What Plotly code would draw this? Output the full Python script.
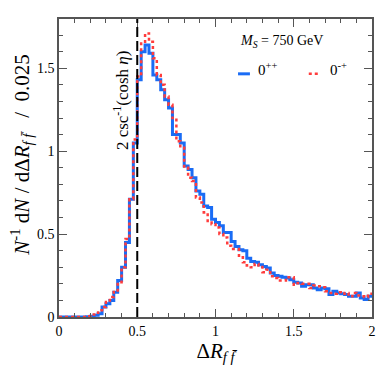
import numpy as np
import plotly.graph_objects as go

bin_width = 0.025
bin_edges = [round(i * bin_width, 4) for i in range(81)]

# 0++ (blue, solid)
y_pp = [0, 0, 0, 0, 0, 0, 0, 0.002,
        0.005, 0.01, 0.02, 0.06, 0.08, 0.10, 0.15, 0.22, 0.30, 0.45, 0.71, 1.05,
        1.43, 1.60, 1.64, 1.59, 1.46, 1.43, 1.37, 1.31, 1.26, 1.10,
        1.10, 1.05, 0.91, 0.89, 0.84, 0.76, 0.74, 0.67, 0.66, 0.59,
        0.57, 0.55, 0.51, 0.51, 0.455, 0.425, 0.405, 0.40, 0.355, 0.335,
        0.33, 0.315, 0.305, 0.295, 0.265, 0.25, 0.245, 0.24, 0.235, 0.225,
        0.21, 0.205, 0.185, 0.195, 0.195, 0.175, 0.165, 0.175, 0.17, 0.135,
        0.155, 0.145, 0.14, 0.135, 0.125, 0.125, 0.145, 0.115, 0.105, 0.125]

# 0-+ (red, dotted)
y_mp = [0, 0, 0, 0, 0, 0, 0, 0.005,
        0.015, 0.025, 0.04, 0.06, 0.09, 0.12, 0.16, 0.21, 0.30, 0.47, 0.71, 1.07,
        1.45, 1.65, 1.71, 1.66, 1.56, 1.46, 1.40, 1.33, 1.28, 1.20,
        1.06, 1.02, 0.90, 0.84, 0.82, 0.72, 0.69, 0.63, 0.57, 0.56,
        0.54, 0.50, 0.48, 0.43, 0.41, 0.41, 0.36, 0.33, 0.31, 0.30,
        0.32, 0.31, 0.27, 0.285, 0.245, 0.235, 0.22, 0.22, 0.24, 0.24,
        0.195, 0.205, 0.20, 0.20, 0.175, 0.19, 0.185, 0.18, 0.155, 0.145,
        0.14, 0.15, 0.14, 0.145, 0.125, 0.145, 0.13, 0.125, 0.12, 0.14]

x_ticks = [0, 0.5, 1, 1.5, 2]
x_ticklabels = ["0", "0.5", "1", "1.5", "2"]
y_ticks = [0, 0.5, 1, 1.5]
y_ticklabels = ["0", "0.5", "1", "1.5"]

BLUE = "#1a6cf5"
RED = "#ff3c3c"
FRAME = "#555555"
FONT = "Liberation Serif"

fig = go.Figure()
fig.add_trace(go.Scatter(x=bin_edges, y=y_pp + [y_pp[-1]], mode="lines",
                         line=dict(color=BLUE, width=3, shape="hv"),
                         showlegend=False, hoverinfo="skip"))
fig.add_trace(go.Scatter(x=bin_edges, y=y_mp + [y_mp[-1]], mode="lines",
                         line=dict(color=RED, width=2.5, shape="hv", dash="dot"),
                         showlegend=False, hoverinfo="skip"))

# vertical dashed line at 2 csc^-1(cosh eta)
fig.add_shape(type="line", x0=0.5, x1=0.5, y0=0, y1=1, xref="x", yref="paper",
              line=dict(color="black", width=2, dash="10px,4px"))

fig.add_annotation(x=0.392, y=1.31, xref="x", yref="y",
                   text="2 csc<sup>-1</sup>(cosh <i>η</i>)", textangle=-90,
                   showarrow=False, font=dict(family=FONT, size=17, color="black"))

fig.add_annotation(x=0.712, y=0.926, xref="paper", yref="paper",
                   xanchor="center", yanchor="middle",
                   text="<i>M</i><sub><i>S</i></sub> = 750 GeV",
                   showarrow=False, font=dict(family=FONT, size=14, color="black"))

# legend samples
fig.add_shape(type="line", x0=0.572, x1=0.610, y0=0.816, y1=0.816,
              xref="paper", yref="paper", line=dict(color=BLUE, width=3))
fig.add_shape(type="line", x0=0.798, x1=0.836, y0=0.816, y1=0.816,
              xref="paper", yref="paper", line=dict(color=RED, width=2.5, dash="dot"))
fig.add_annotation(x=0.629, y=0.868, xref="paper", yref="paper", xanchor="left",
                   text="0<sup>++</sup>", showarrow=False,
                   font=dict(family=FONT, size=15, color="black"))
fig.add_annotation(x=0.858, y=0.868, xref="paper", yref="paper", xanchor="left",
                   text="0<sup>-+</sup>", showarrow=False,
                   font=dict(family=FONT, size=15, color="black"))

# y-axis title (as rotated text, placed like the reference)
fig.add_annotation(x=-0.119, y=0.544, xref="paper", yref="paper",
                   xanchor="center", yanchor="middle", textangle=-90,
                   text="<i>N</i><sup>-1</sup> d<i>N</i> / dΔ<i>R</i><sub><i>f f̄</i></sub>   /  0.025",
                   showarrow=False, font=dict(family=FONT, size=21, color="black"))

axis_common = dict(showline=True, linecolor=FRAME, linewidth=1.5, mirror="allticks",
                   ticks="inside", ticklen=8, tickcolor=FRAME, tickwidth=1,
                   showgrid=False, zeroline=False, automargin=False,
                   tickfont=dict(family=FONT, size=14, color="black"))

fig.update_xaxes(range=[0, 2], tickvals=x_ticks, ticktext=x_ticklabels,
                 minor=dict(ticks="inside", dtick=0.1, ticklen=4, tickcolor=FRAME, showgrid=False),
                 title=dict(text="Δ<i>R</i><sub><i>f f̄</i></sub>", standoff=4,
                            font=dict(family=FONT, size=21, color="black")),
                 **axis_common)
fig.update_yaxes(range=[0, 1.797], tickvals=y_ticks, ticktext=y_ticklabels,
                 minor=dict(ticks="inside", dtick=0.1, ticklen=4, tickcolor=FRAME, showgrid=False),
                 **axis_common)

fig.update_layout(width=384, height=366,
                  margin=dict(l=50.5, r=19.5, t=11, b=56.5),
                  paper_bgcolor="white", plot_bgcolor="white",
                  font=dict(family=FONT, color="black"))

fig.write_html("out.html")
